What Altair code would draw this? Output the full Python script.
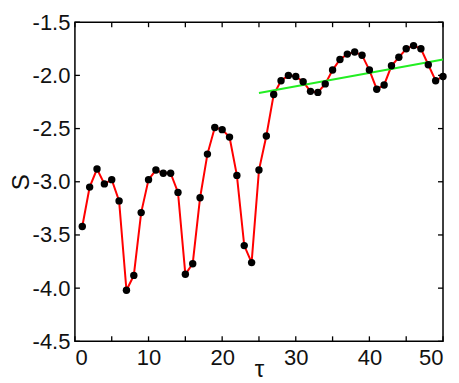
import altair as alt
import pandas as pd

tau = [1, 2, 3, 4, 5, 6, 7, 8, 9, 10, 11, 12, 13, 14, 15, 16, 17, 18, 19, 20,
       21, 22, 23, 24, 25, 26, 27, 28, 29, 30, 31, 32, 33, 34, 35, 36, 37, 38, 39, 40,
       41, 42, 43, 44, 45, 46, 47, 48, 49, 50]
S = [-3.42, -3.05, -2.88, -3.02, -2.98, -3.18, -4.02, -3.88, -3.29, -2.98,
     -2.89, -2.92, -2.92, -3.10, -3.87, -3.77, -3.15, -2.74, -2.49, -2.51,
     -2.58, -2.94, -3.60, -3.76, -2.89, -2.57, -2.18, -2.05, -2.00, -2.01,
     -2.06, -2.15, -2.16, -2.08, -1.95, -1.85, -1.80, -1.78, -1.81, -1.95,
     -2.13, -2.09, -1.91, -1.83, -1.75, -1.72, -1.75, -1.90, -2.05, -2.01]

fit_tau = [25, 50]
fit_S = [-2.165, -1.85]

x_ticks = [0, 5, 10, 15, 20, 25, 30, 35, 40, 45, 50]
x_labels = [0, 10, 20, 30, 40, 50]
y_ticks = [-4.5, -4.0, -3.5, -3.0, -2.5, -2.0, -1.5]

W, H = 368.5, 319.5
FONT = "Liberation Sans"

df = pd.DataFrame({"tau": tau, "S": S})
fit = pd.DataFrame({"tau": fit_tau, "S": fit_S})
xt = pd.DataFrame({"v": x_ticks})
yt = pd.DataFrame({"v": y_ticks})

xscale = alt.Scale(domain=[0, 50], nice=False, zero=False)
yscale = alt.Scale(domain=[-4.5, -1.5], nice=False, zero=False)

label_expr = "replace(format(datum.value, '.1f'), '\u2212', '-')"

xax = alt.X("tau:Q", scale=xscale, title="τ",
            axis=alt.Axis(values=x_labels, grid=False, domain=False, ticks=False,
                          labelFont=FONT, labelFontSize=22, labelColor="#111",
                          labelBaseline="alphabetic", labelPadding=23,
                          titleFont=FONT, titleFontSize=24, titleFontWeight="normal",
                          titleColor="#111", titleBaseline="alphabetic", titleY=35))
yax = alt.Y("S:Q", scale=yscale, title="S",
            axis=alt.Axis(values=y_ticks, grid=False, domain=False, ticks=False,
                          labelExpr=label_expr,
                          labelFont=FONT, labelFontSize=22, labelColor="#111",
                          labelPadding=5,
                          titleFont=FONT, titleFontSize=24, titleFontWeight="normal",
                          titleColor="#111", titleBaseline="alphabetic", titleX=-46))

line = alt.Chart(df).mark_line(color="#ff0000", strokeWidth=2).encode(x=xax, y=yax)
pts = alt.Chart(df).mark_circle(color="black", size=55, opacity=1).encode(
    x=alt.X("tau:Q", scale=xscale), y=alt.Y("S:Q", scale=yscale))
fitline = alt.Chart(fit).mark_line(color="#22ee22", strokeWidth=2).encode(
    x=alt.X("tau:Q", scale=xscale), y=alt.Y("S:Q", scale=yscale))

tk = dict(color="black", strokeWidth=1.3)
bt = alt.Chart(xt).mark_rule(**tk).encode(x=alt.X("v:Q", scale=xscale), y=alt.value(H), y2=alt.value(H - 5))
tp = alt.Chart(xt).mark_rule(**tk).encode(x=alt.X("v:Q", scale=xscale), y=alt.value(0), y2=alt.value(5))
lt = alt.Chart(yt).mark_rule(**tk).encode(y=alt.Y("v:Q", scale=yscale), x=alt.value(0), x2=alt.value(5))
rt = alt.Chart(yt).mark_rule(**tk).encode(y=alt.Y("v:Q", scale=yscale), x=alt.value(W), x2=alt.value(W - 5))

chart = alt.layer(line, fitline, pts, bt, tp, lt, rt).properties(
    width=W, height=H,
    autosize=alt.AutoSizeParams(type="none"),
    padding={"left": 67, "top": 14, "right": 8, "bottom": 40},
    background="white",
).configure_view(stroke="black", strokeWidth=1.5)

chart.save("out.html", embed_options={"renderer": "svg", "actions": False})
